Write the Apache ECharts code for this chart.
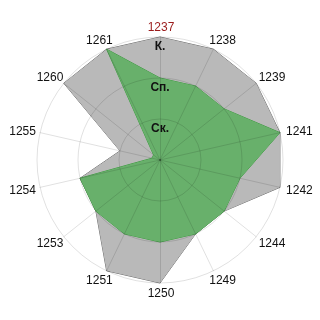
<!DOCTYPE html>
<html><head><meta charset="utf-8">
<script src="https://cdn.jsdelivr.net/npm/echarts@6/dist/echarts.min.js"></script>
<style>html,body{margin:0;padding:0;background:#fff}#c{width:320px;height:320px}</style>
</head><body><div id="c"></div>
<script>
var categories = ['1237','1238','1239','1241','1242','1244','1249','1250','1251','1253','1254','1255','1260','1261'];
var greyValues = [3,3,3,3,3,2,2,3,3,2,2,1,3,3];
var greenValues = [2,2,2,3,2,2,2,2,2,2,2,0.2,0.2,3];
var levelLabels = ['', 'Ск.', 'Сп.', 'К.'];
var maxValue = 3;

// ECharts radar places indicators counter-clockwise; reorder for clockwise layout
function cw(arr){ return [arr[0]].concat(arr.slice(1).reverse()); }

var FONT = 'Liberation Sans, Arial, sans-serif';
var ordered = cw(categories);
var rich = {};
ordered.forEach(function(n, i){
  // clockwise angle from top in screen coordinates
  var k = categories.indexOf(n);
  var a = k * 2 * Math.PI / categories.length;
  var dx = Math.sin(a) * 13 + 1, dy = -Math.cos(a) * 4 + 1;
  rich['n' + i] = {
    fontFamily: FONT, fontSize: 12,
    color: n === '1237' ? '#9b1b1b' : '#111',
    padding: [Math.max(0, 2*dy), Math.max(0, -2*dx), Math.max(0, -2*dy), Math.max(0, 2*dx)]
  };
});

var chart = echarts.init(document.getElementById('c'), null, {renderer:'canvas'});
chart.setOption({
  animation:false,
  polar:{center:[160,160], radius:123},
  angleAxis:{show:false, type:'value', min:0, max:360},
  radiusAxis:{
    min:0, max:maxValue, interval:1,
    axisLine:{show:false}, axisTick:{show:false}, splitLine:{show:false},
    axisLabel:{
      formatter:function(v){ return levelLabels[Math.round(v)] || ''; },
      align:'center', verticalAlign:'top', margin:0, padding:[4,0,0,0],
      fontFamily:FONT, fontSize:12, fontWeight:'bold', color:'#111'
    },
    z:10
  },
  radar:{
    center:[160,160], radius:123, startAngle:90, splitNumber:3, shape:'circle',
    z:5,
    indicator: ordered.map(function(n){
      return {name:n, max:maxValue, min:0, color: n==='1237' ? '#9b1b1b' : '#111'};
    }),
    nameGap:6,
    axisName:{
      fontFamily:FONT, fontSize:12, align:'center', verticalAlign:'middle',
      formatter:function(name){ return '{n' + ordered.indexOf(name) + '|' + name + '}'; },
      rich: rich
    },
    axisLine:{lineStyle:{color:'rgba(0,0,0,0.12)', width:1}},
    splitLine:{lineStyle:{color:'rgba(0,0,0,0.12)', width:1}},
    splitArea:{show:false}
  },
  series:[{
    type:'radar', z:2, symbol:'none',
    data:[
      {value:cw(greyValues), lineStyle:{color:'#6e6e6e', width:1}, areaStyle:{color:'#b9b9b9', opacity:1}},
      {value:cw(greenValues), lineStyle:{color:'#3c9a3f', width:1}, areaStyle:{color:'#68b06b', opacity:1}}
    ]
  }]
});
</script></body></html>
